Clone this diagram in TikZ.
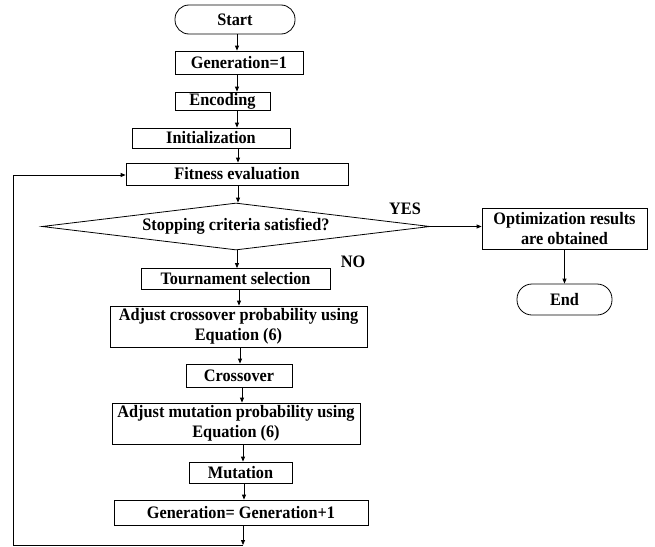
\documentclass[tikz,border=0pt]{standalone}
\usepackage{fontspec}
\setmainfont[FakeStretch=0.93]{Liberation Serif}
\usetikzlibrary{arrows.meta,shapes.geometric}
\begin{document}
\begin{tikzpicture}[x=1pt,y=-1pt,
  every node/.style={font=\fontsize{17.5}{20}\selectfont\bfseries, inner sep=0pt, align=center},
  procbox/.style={draw, line width=0.8pt, rectangle},
  termbox/.style={draw, line width=0.8pt, rectangle, rounded corners=14pt},
  decbox/.style={draw, line width=0.8pt, diamond, aspect=8},
  arr/.style={line width=0.8pt, -{Triangle[length=5pt,width=4pt]}},
  lin/.style={line width=0.8pt},
  lbl/.style={}]
\useasboundingbox (0,0) rectangle (655,546);
\node[termbox, minimum width=120pt, minimum height=29pt] (start) at (235,19.5) {Start};
\node[procbox, minimum width=128pt, minimum height=23pt] (gen1) at (239,62.5) {Generation=1};
\node[procbox, minimum width=95pt, minimum height=18pt] (enc) at (222.5,101) {Encoding};
\node[procbox, minimum width=158pt, minimum height=20pt] (init) at (211,138) {Initialization};
\node[procbox, minimum width=222pt, minimum height=22pt] (fit) at (237,174) {Fitness evaluation};
\node[decbox, minimum width=388pt, minimum height=47pt] (dec) at (236,226.5) {Stopping criteria satisfied?};
\node[procbox, minimum width=165pt, minimum height=41pt] (opt) at (564.5,228.5) {Optimization results\\are obtained};
\node[termbox, minimum width=95pt, minimum height=31pt, rounded corners=15pt] (end) at (564.5,299.5) {End};
\node[procbox, minimum width=189pt, minimum height=21pt] (tour) at (235.5,279) {Tournament selection};
\node[procbox, minimum width=257pt, minimum height=41pt] (adjc) at (238.5,326.5) {Adjust crossover probability using\\Equation (6)};
\node[procbox, minimum width=106pt, minimum height=23pt] (cross) at (239,375.5) {Crossover};
\node[procbox, minimum width=248pt, minimum height=41pt] (adjm) at (236,423.5) {Adjust mutation probability using\\Equation (6)};
\node[procbox, minimum width=103pt, minimum height=21pt] (mut) at (240.5,472.5) {Mutation};
\node[procbox, minimum width=254pt, minimum height=25pt] (gen2) at (241,512.5) {Generation= Generation+1};
\node[lbl] (yes) at (405,209) {YES};
\node[lbl] (no) at (353,262) {NO};
\coordinate (lb) at (243,545);
\coordinate (lc) at (13,545);
\coordinate (lt) at (13,175);
\draw[arr] (start.south -| 237,0) -- (gen1.north -| 237,0);
\draw[arr] (gen1.south -| 237,0) -- (enc.north -| 237,0);
\draw[arr] (enc.south -| 237,0) -- (init.north -| 237,0);
\draw[arr] (init.south -| 238,0) -- (fit.north -| 238,0);
\draw[arr] (fit.south -| 238,0) -- (dec.north -| 238,0);
\draw[arr] (dec.east) -- (opt.west |- dec.east);
\draw[arr] (opt.south) -- (end.north);
\draw[arr] (dec.south -| 237,0) -- (tour.north -| 237,0);
\draw[arr] (tour.south -| 239,0) -- (adjc.north -| 239,0);
\draw[arr] (adjc.south -| 240,0) -- (cross.north -| 240,0);
\draw[arr] (cross.south -| 242,0) -- (adjm.north -| 242,0);
\draw[arr] (adjm.south -| 243,0) -- (mut.north -| 243,0);
\draw[arr] (mut.south -| 244,0) -- (gen2.north -| 244,0);
\draw[arr] (gen2.south -| lb) -- (lb);
\draw[lin] (lb) -- (lc) -- (lt);
\draw[arr] (lt) -- (fit.west |- lt);
\end{tikzpicture}
\end{document}
